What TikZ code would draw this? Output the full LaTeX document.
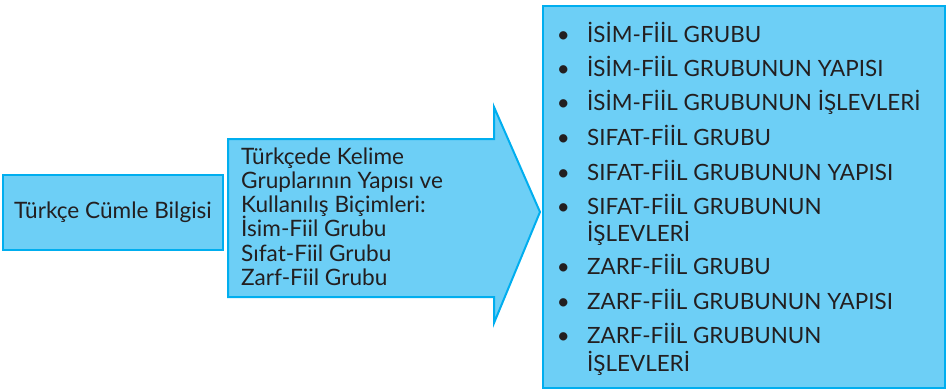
\documentclass[tikz,border=0pt]{standalone}
\usepackage{fontspec}
\setmainfont{Lato}
\definecolor{fillb}{HTML}{6DCFF6}
\definecolor{edgeb}{HTML}{00AEEF}
\definecolor{ink}{HTML}{231F20}
\begin{document}
\begin{tikzpicture}[x=1pt,y=-1pt,
  box/.style={draw=edgeb, fill=fillb, line width=2pt, line join=miter},
  lefttext/.style={text=ink, font=\fontsize{22.6}{26}\selectfont},
  midline/.style={anchor=base west, inner sep=0pt, text=ink, font=\fontsize{22.6}{26}\selectfont},
  listline/.style={anchor=base west, inner sep=0pt, text=ink, font=\fontsize{22.4}{26}\selectfont},
  bul/.style={anchor=base, inner sep=0pt, text=ink, font=\fontsize{22.4}{26}\selectfont}]
\useasboundingbox (0,0) rectangle (946,389);
% left box
\node[box, lefttext, minimum width=220pt, minimum height=75pt, inner sep=0pt] (lb) at (113,212.5) {Türkçe Cümle Bilgisi};
% middle arrow
\draw[box] (228,139) -- (494,139) -- (494,107) -- (540,212) -- (494,323) -- (494,297) -- (228,297) -- cycle;
\node[midline] (m1) at (241,164.3) {Türkçede Kelime};
\node[midline] (m2) at (241,188.5) {Grupların\i n Yap\i s\i\ ve};
\node[midline] (m3) at (241,212.7) {Kullan\i l\i ş Biçimleri:};
\node[midline] (m4) at (241,236.9) {İsim-Fiil Grubu};
\node[midline] (m5) at (241,261.1) {S\i fat-Fiil Grubu};
\node[midline] (m6) at (241,285.3) {Zarf-Fiil Grubu};
% right box
\node[box, minimum width=402pt, minimum height=382pt, anchor=north west, inner sep=0pt] (rb) at (542,5) {};
\node[bul] (b1) at (563.3,42.7) {•};
\node[listline] (r1) at (587,42.7) {İSİM-FİİL GRUBU};
\node[bul] (b2) at (563.3,76.7) {•};
\node[listline] (r2) at (587,76.7) {İSİM-FİİL GRUBUNUN YAPISI};
\node[bul] (b3) at (563.3,110.7) {•};
\node[listline] (r3) at (587,110.7) {İSİM-FİİL GRUBUNUN İŞLEVLERİ};
\node[bul] (b4) at (563.3,145) {•};
\node[listline] (r4) at (587,145) {SIFAT-FİİL GRUBU};
\node[bul] (b5) at (563.3,180) {•};
\node[listline] (r5) at (587,180) {SIFAT-FİİL GRUBUNUN YAPISI};
\node[bul] (b6) at (563.3,214) {•};
\node[listline] (r6a) at (587,214) {SIFAT-FİİL GRUBUNUN};
\node[listline] (r6b) at (587,241.5) {İŞLEVLERİ};
\node[bul] (b7) at (563.3,274.5) {•};
\node[listline] (r7) at (587,274.5) {ZARF-FİİL GRUBU};
\node[bul] (b8) at (563.3,309) {•};
\node[listline] (r8) at (587,309) {ZARF-FİİL GRUBUNUN YAPISI};
\node[bul] (b9) at (563.3,343.3) {•};
\node[listline] (r9a) at (587,343.3) {ZARF-FİİL GRUBUNUN};
\node[listline] (r9b) at (587,371) {İŞLEVLERİ};
\end{tikzpicture}
\end{document}
